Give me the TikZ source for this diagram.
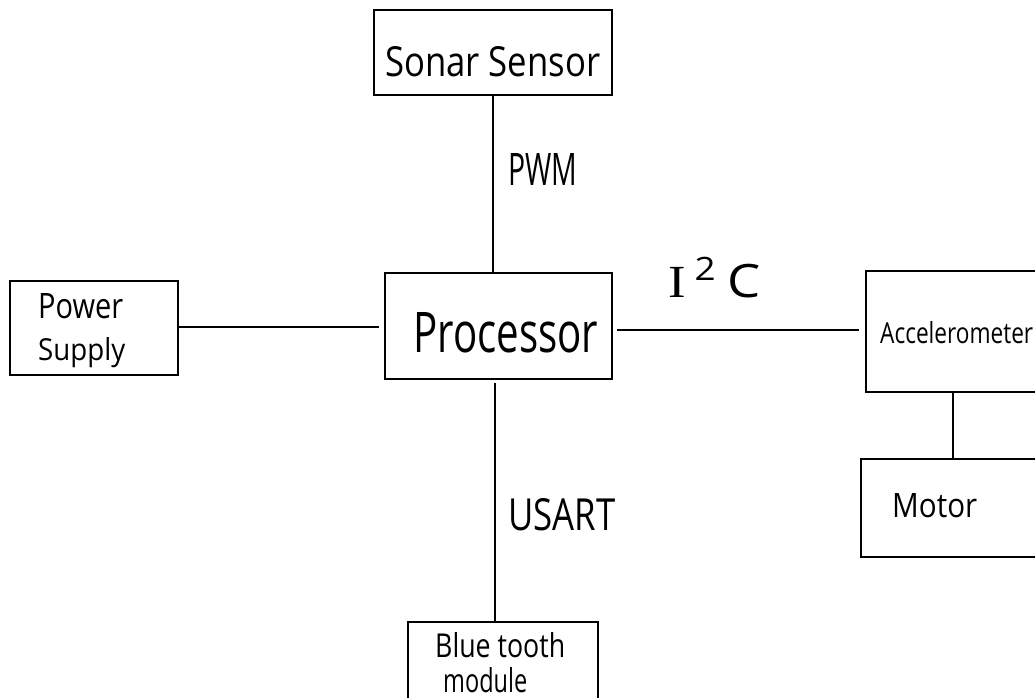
\documentclass[tikz,border=0pt]{standalone}
\usepackage{fontspec}
\usepackage{graphicx}
\setmainfont{Open Sans}
\newfontfamily\serifI{Liberation Serif}
\usetikzlibrary{calc}
\newcommand{\hw}[3]{\resizebox{#1}{#2}{#3}}
\begin{document}
\begin{tikzpicture}[x=1pt,y=-1pt,
  blk/.style={draw=black,line width=2.3pt,rectangle,inner sep=0pt},
  conn/.style={draw=black,line width=1.9pt},
  txt/.style={inner sep=0pt,anchor=base west,text=black}]
\useasboundingbox (0,0) rectangle (1035,698);
\clip (0,0) rectangle (1035,698);
\fill[white] (0,0) rectangle (1035,698);
% boxes
\node[blk,minimum width=238pt,minimum height=85pt] (sonar) at (493,52.5) {};
\node[blk,minimum width=168pt,minimum height=94pt] (power) at (94,328) {};
\node[blk,minimum width=227pt,minimum height=106pt] (proc) at (498.5,326) {};
\node[blk,minimum width=179pt,minimum height=121pt] (accel) at (955.5,331.5) {};
\node[blk,minimum width=184pt,minimum height=98pt] (motor) at (953,508) {};
\node[blk,minimum width=190pt,minimum height=88pt] (blue) at (503,666) {};
% texts
\node[txt] (tsonar) at (385,77) {\hw{215pt}{30pt}{Sonar Sensor}};
\node[txt] (tpower) at (38,318) {\hw{85pt}{25pt}{Power}};
\node[txt] (tsupply) at (38,360) {\hw{87pt}{23pt}{Supply}};
\node[txt] (tproc) at (413,352) {\hw{185pt}{40pt}{Processor}};
\node[txt] (taccel) at (880,343) {\hw{153pt}{22pt}{Accelerometer}};
\node[txt] (tmotor) at (892,517) {\hw{85pt}{24pt}{Motor}};
\node[txt] (tblue) at (435,657) {\hw{130pt}{25pt}{Blue tooth}};
\node[txt] (tmodule) at (443,692) {\hw{84pt}{25pt}{module}};
% connectors
\coordinate (c1) at ($(power.east)+(0,-1)$);
\draw[conn] (c1) -- ($(proc.west |- c1)+(-5,0)$) coordinate (c1e);
\coordinate (c2) at ($(proc.east)+(4,4)$);
\draw[conn] (c2) -- ($(accel.west |- c2)+(-6,0)$) coordinate (c2e);
\draw[conn] (sonar.south) -- (sonar.south |- proc.north);
\coordinate (c3) at ($(proc.south)+(-3.5,3)$);
\draw[conn] (c3) -- (c3 |- blue.north);
\draw[conn] (accel.south -| motor.north) -- (motor.north);
% labels
\node[txt] (lpwm) at (508,185) {\hw{69pt}{32pt}{PWM}};
\node[txt] (lusart) at (508,530) {\hw{107pt}{32pt}{USART}};
\node[txt] (li2c) at (668,297) {\hw{92pt}{40pt}{{\serifI I}\,\textsuperscript{2}\,C}};
\end{tikzpicture}
\end{document}
